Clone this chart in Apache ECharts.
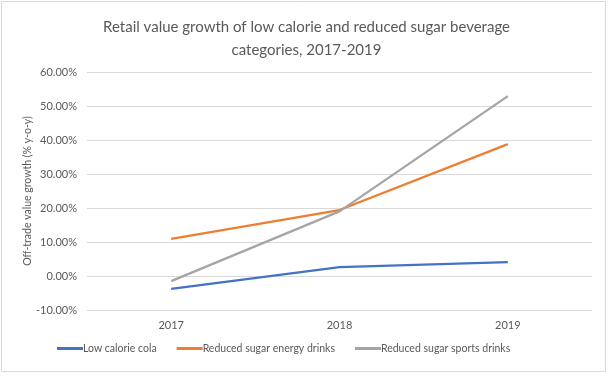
<!DOCTYPE html>
<html><head><meta charset="utf-8">
<script src="https://cdn.jsdelivr.net/npm/echarts@6/dist/echarts.min.js"></script>
<style>html,body{margin:0;padding:0;background:#fff}#c{width:613px;height:378px}</style>
</head><body><div id="c"></div>
<script>
const categories = ['2017', '2018', '2019'];
const lowCalorieCola = [-3.8, 2.6, 4.1];
const reducedSugarEnergy = [10.9, 19.4, 38.8];
const reducedSugarSports = [-1.5, 19.0, 52.9];
const seriesNames = ['Low calorie cola', 'Reduced sugar energy drinks', 'Reduced sugar sports drinks'];
const colors = ['#4472C4', '#ED7D31', '#A5A5A5'];
const FONT = 'Lato';
const chart = echarts.init(document.getElementById('c'));
chart.setOption({
  animation: false,
  color: colors,
  title: {
    text: 'Retail value growth of low calorie and reduced sugar beverage\ncategories, 2017-2019',
    left: 'center', top: 11,
    textStyle: { fontFamily: FONT, fontSize: 15, fontWeight: 'normal', color: '#595959', lineHeight: 23 }
  },
  graphic: [{ type: 'rect', shape: { x: 1.5, y: 1.5, width: 604, height: 370 }, style: { fill: 'none', stroke: '#D9D9D9', lineWidth: 1 }, silent: true }],
  grid: { left: 87, right: 21, top: 72, bottom: 68 },
  legend: {
    bottom: 19, left: 52, itemGap: 20, itemWidth: 26, itemHeight: 3,
    icon: 'rect',
    textStyle: { fontFamily: FONT, fontSize: 10.5, color: '#595959', padding: [0, 0, 0, -5] },
    data: seriesNames
  },
  xAxis: {
    type: 'category', data: categories, boundaryGap: true,
    axisLine: { show: false }, axisTick: { show: false },
    axisLabel: { fontFamily: FONT, fontSize: 11, color: '#595959', margin: 10 }
  },
  yAxis: {
    type: 'value', min: -10, max: 60, interval: 10,
    name: 'Off-trade value growth (% y-o-y)', nameLocation: 'middle', nameGap: 54, nameRotate: 90,
    nameMoveOverlap: false,
    nameTextStyle: { fontFamily: FONT, fontSize: 10.5, color: '#595959' },
    axisLine: { show: false }, axisTick: { show: false },
    splitLine: { lineStyle: { color: '#D9D9D9', width: 1 } },
    axisLabel: { fontFamily: FONT, fontSize: 11, color: '#595959', margin: 10, formatter: v => v.toFixed(2) + '%' }
  },
  series: [
    { name: seriesNames[0], type: 'line', data: lowCalorieCola, symbol: 'none', lineStyle: { width: 2.25 } },
    { name: seriesNames[1], type: 'line', data: reducedSugarEnergy, symbol: 'none', lineStyle: { width: 2.25 } },
    { name: seriesNames[2], type: 'line', data: reducedSugarSports, symbol: 'none', lineStyle: { width: 2.25 } }
  ]
});
</script></body></html>
